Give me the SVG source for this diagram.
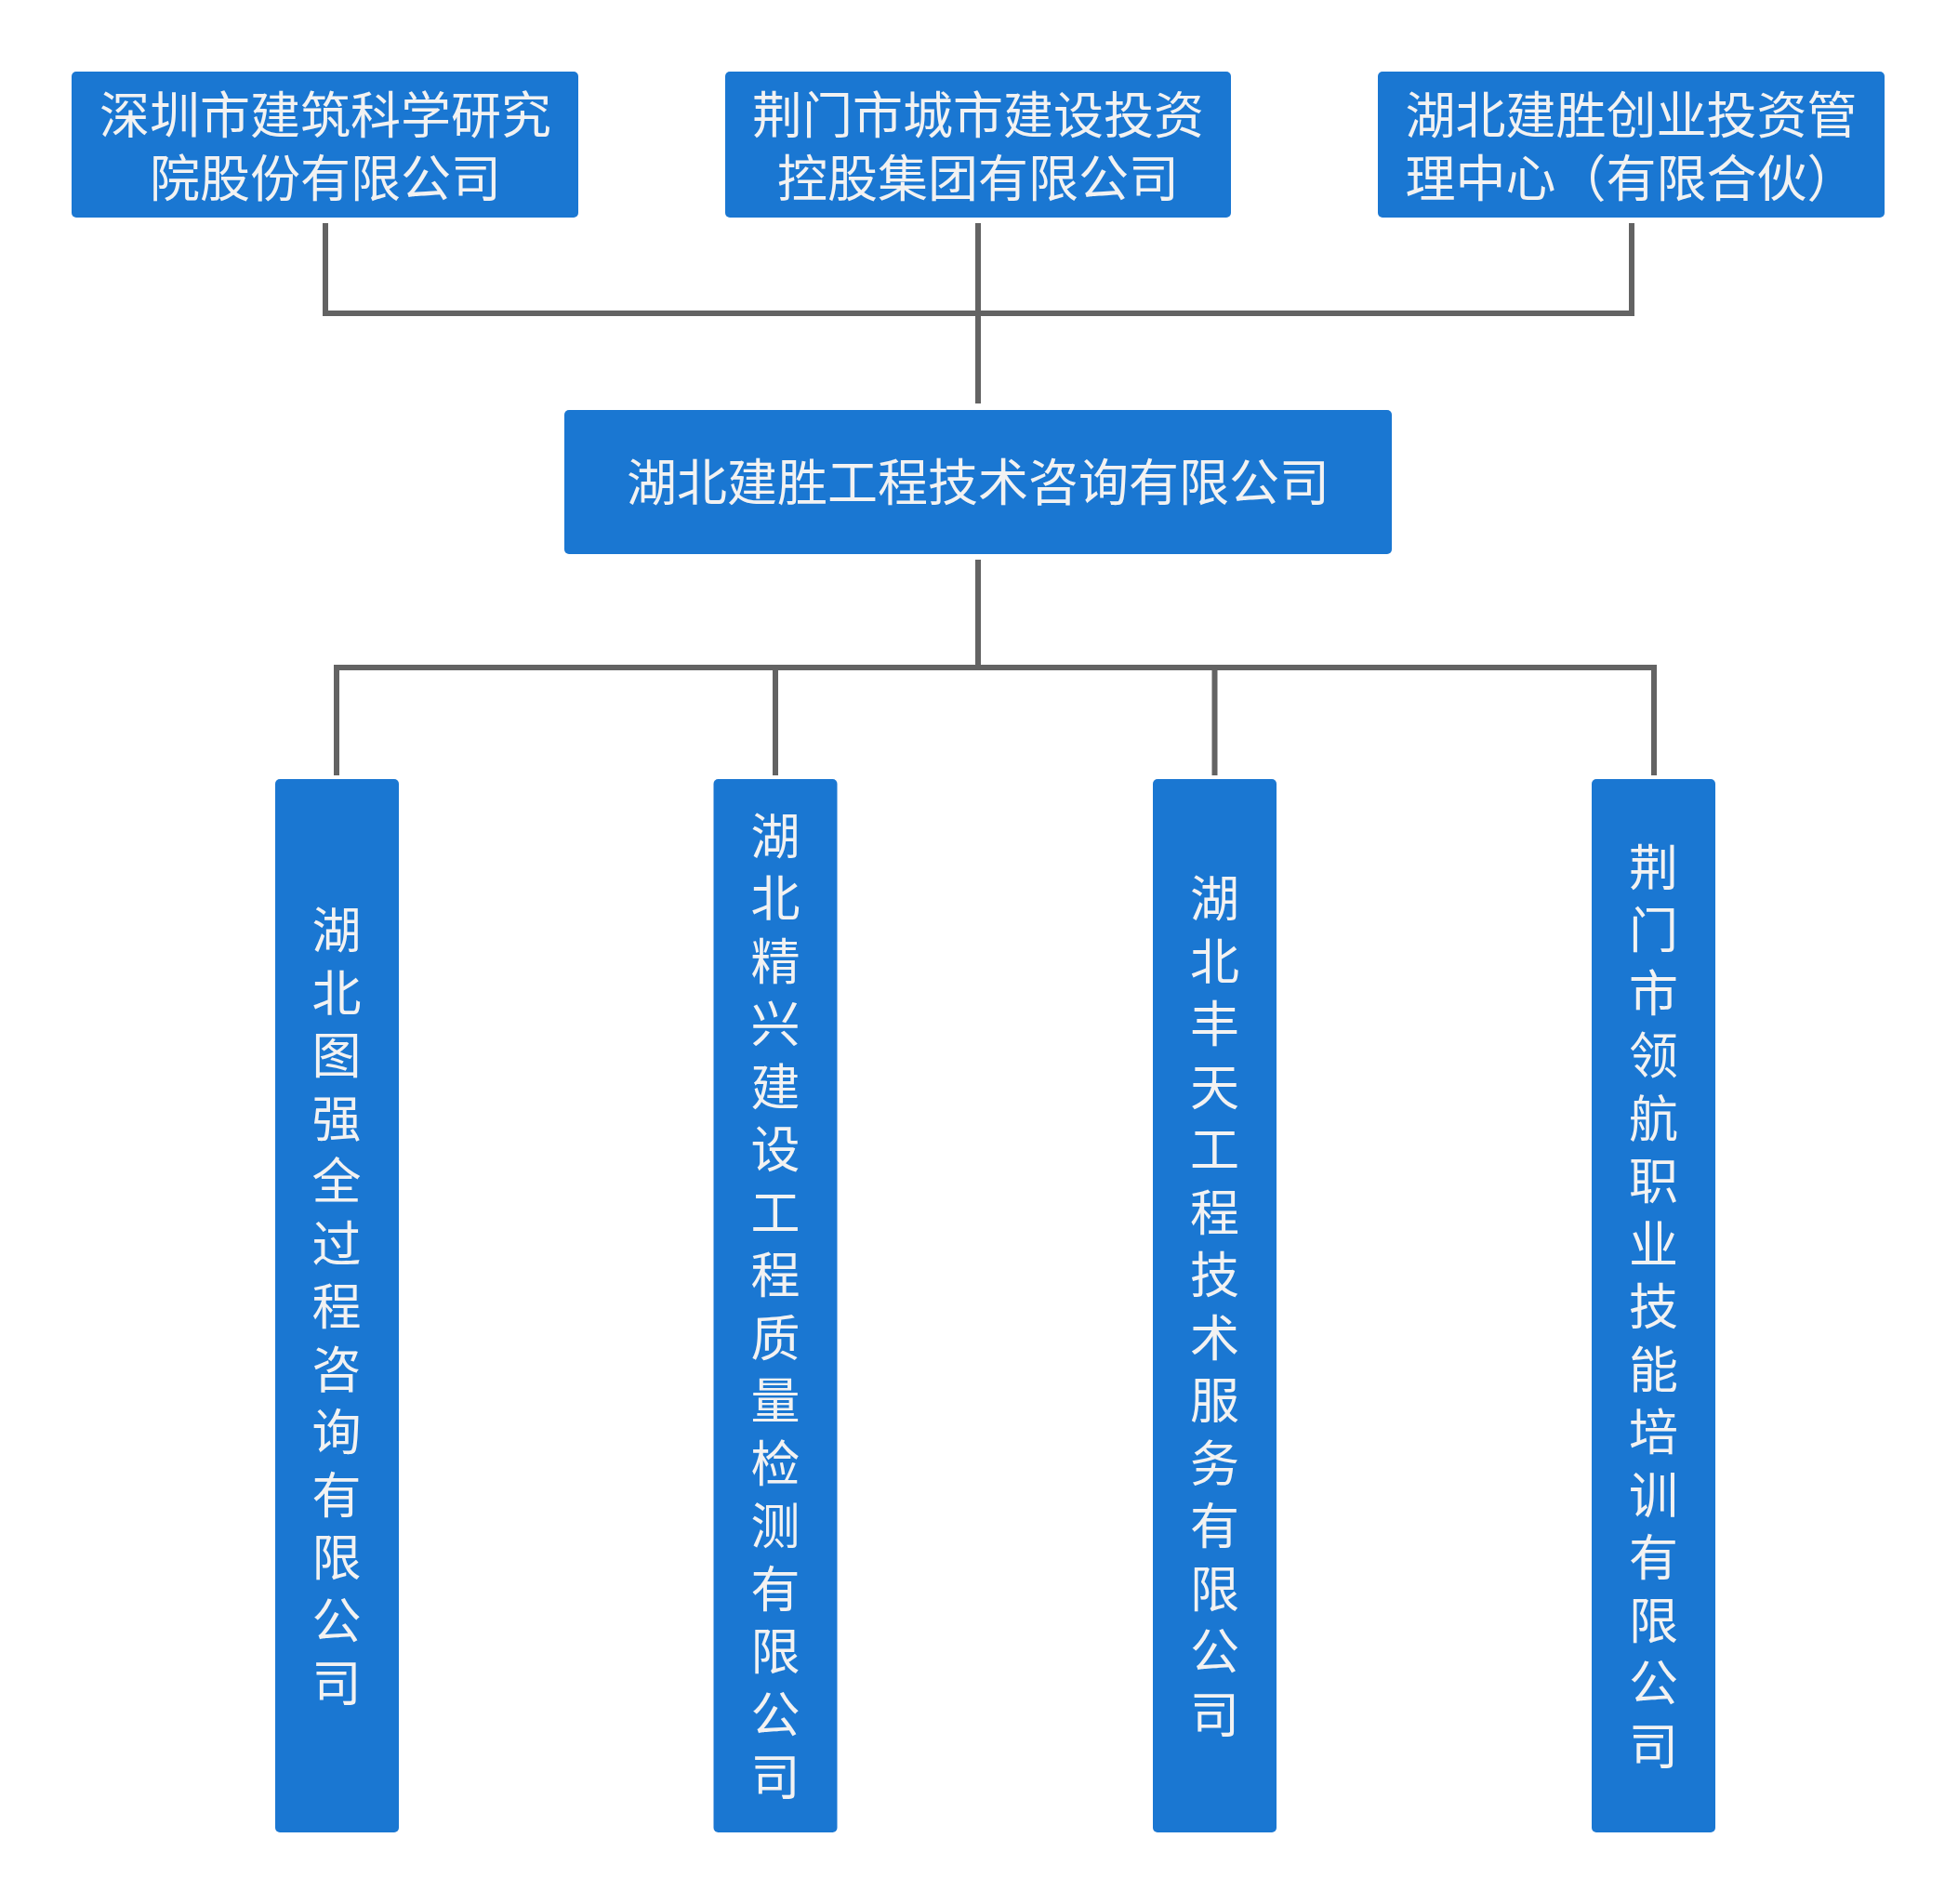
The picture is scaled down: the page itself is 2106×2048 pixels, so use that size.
<svg xmlns="http://www.w3.org/2000/svg" width="2106" height="2048" viewBox="0 0 2106 2048">
<style>
.box{fill:#1A77D2;}
.t{font-family:"Noto Sans CJK SC","Noto Sans",sans-serif;font-size:54px;fill:#F2F2F2;text-anchor:middle;}
.v{font-family:"Noto Sans CJK SC","Noto Sans",sans-serif;font-size:53px;fill:#F2F2F2;text-anchor:middle;writing-mode:vertical-rl;letter-spacing:14.5px;}
.ln{fill:none;stroke:#636363;stroke-width:6;}
</style>
<rect width="2106" height="2048" fill="#FFFFFF"/>
<g id="connectors">
<path class="ln" d="M350 240 V337 H1755 V240"/>
<path class="ln" d="M1052 240 V434"/>
<path class="ln" d="M1052 602 V718"/>
<path class="ln" d="M362 834 V718 H1779 V834"/>
<path class="ln" d="M834 718 V834"/>
<path class="ln" d="M1306.5 718 V834"/>
</g>
<g id="n_shenzhen">
<rect class="box" x="77" y="77" width="545" height="157" rx="5"/>
<text class="t"><tspan x="350" y="143.5">深圳市建筑科学研究</tspan><tspan x="350" y="211.5">院股份有限公司</tspan></text>
</g>
<g id="n_jingmen">
<rect class="box" x="780" y="77" width="544" height="157" rx="5"/>
<text class="t"><tspan x="1052" y="143.5">荆门市城市建设投资</tspan><tspan x="1052" y="211.5">控股集团有限公司</tspan></text>
</g>
<g id="n_chuangye">
<rect class="box" x="1482" y="77" width="545" height="157" rx="5"/>
<text class="t"><tspan x="1754.5" y="143.5">湖北建胜创业投资管</tspan><tspan x="1754.5" y="211.5">理中心（有限合伙）</tspan></text>
</g>
<g id="n_main">
<rect class="box" x="607" y="441" width="890" height="155" rx="5"/>
<text class="t" x="1052" y="539">湖北建胜工程技术咨询有限公司</text>
</g>
<g id="n_tuqiang">
<rect class="box" x="296" y="838" width="133" height="1133" rx="5"/>
<text class="v" x="362" y="1412.25">湖北图强全过程咨询有限公司</text>
</g>
<g id="n_jingxing">
<rect class="box" x="767.5" y="838" width="133" height="1133" rx="5"/>
<text class="v" x="834" y="1412.25">湖北精兴建设工程质量检测有限公司</text>
</g>
<g id="n_fengtian">
<rect class="box" x="1240" y="838" width="133" height="1133" rx="5"/>
<text class="v" x="1306.5" y="1412.25">湖北丰天工程技术服务有限公司</text>
</g>
<g id="n_linghang">
<rect class="box" x="1712" y="838" width="133" height="1133" rx="5"/>
<text class="v" x="1778.5" y="1412.25">荆门市领航职业技能培训有限公司</text>
</g>
</svg>
